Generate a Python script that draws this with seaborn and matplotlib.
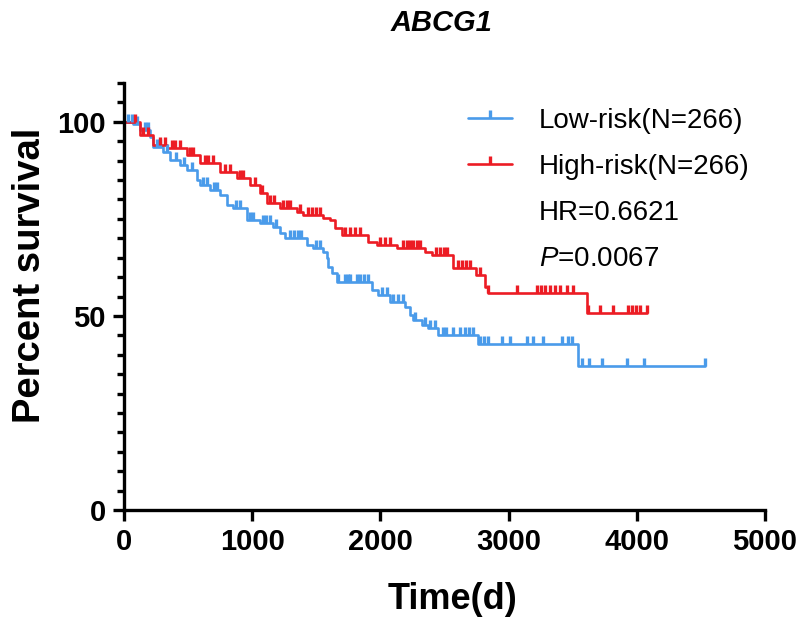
import matplotlib
matplotlib.use("Agg")
import matplotlib.pyplot as plt
import numpy as np
import pandas as pd
import seaborn as sns
from matplotlib.lines import Line2D
from matplotlib.ticker import MultipleLocator

sns.set_style("ticks")
plt.rcParams['font.family'] = ['Liberation Sans', 'DejaVu Sans']
plt.rcParams['mathtext.fontset'] = 'custom'
plt.rcParams['mathtext.rm'] = 'Liberation Sans'
plt.rcParams['mathtext.it'] = 'Liberation Sans:italic'
plt.rcParams['text.color'] = 'black'
plt.rcParams['axes.labelcolor'] = 'black'
plt.rcParams['axes.edgecolor'] = 'black'
plt.rcParams['xtick.color'] = 'black'
plt.rcParams['ytick.color'] = 'black'

# Kaplan-Meier step points (days, percent survival)
low_t = [0, 70, 125, 203, 226, 304, 359, 437, 491, 569, 593, 671, 749, 803, 850,
         959, 1061, 1162, 1217, 1256, 1427, 1474, 1552, 1583, 1591, 1622, 1661,
         1934, 1981, 2075, 2192, 2231, 2254, 2324, 2371, 2449, 2761, 3541, 4532]
low_s = [100, 99.5, 97.9, 96.1, 93.6, 92.3, 90.2, 88.9, 87.6, 85.1, 83.8, 82.5, 81.2,
         78.6, 77.8, 74.7, 74.0, 72.9, 71.4, 70.1, 68.3, 67.5, 66.5, 64.9, 62.6, 61.1,
         58.8, 56.7, 55.4, 53.6, 52.3, 50.3, 49.0, 47.7, 46.9, 45.1, 42.8, 37.1, 37.1]

high_t = [0, 125, 226, 335, 491, 593, 749, 881, 983, 1061, 1115, 1217, 1349, 1396,
          1552, 1607, 1646, 1700, 1903, 1973, 2129, 2348, 2402, 2566, 2746, 2816,
          2839, 3611, 4079]
high_s = [100, 96.6, 94.1, 93.3, 91.5, 89.4, 87.1, 85.6, 83.8, 81.7, 79.1, 77.8, 76.8,
          76.0, 75.3, 74.7, 72.7, 70.9, 69.1, 68.3, 67.5, 66.5, 65.7, 62.4, 60.6, 57.5,
          55.9, 50.8, 50.8]

# censored times (days)
low_cens = [31, 62, 101, 164, 187, 257, 281, 335, 406, 468, 530, 616, 647, 702, 725,
            874, 905, 983, 1006, 1084, 1108, 1139, 1186, 1295, 1326, 1357, 1381, 1498,
            1529, 1669, 1724, 1747, 1763, 1817, 1841, 1872, 1903, 2012, 2051, 2098,
            2137, 2176, 2270, 2348, 2387, 2426, 2488, 2512, 2566, 2621, 2660, 2691,
            2722, 2777, 2808, 2839, 2948, 3011, 3143, 3190, 3268, 3416, 3463, 3494,
            3572, 3627, 3728, 3923, 4056, 4532]
high_cens = [86, 148, 187, 281, 320, 374, 398, 437, 515, 538, 632, 655, 694, 788, 827,
             905, 928, 1022, 1076, 1139, 1170, 1240, 1271, 1295, 1373, 1435, 1466, 1498,
             1529, 1724, 1763, 1802, 1841, 1997, 2036, 2075, 2176, 2207, 2231, 2254,
             2285, 2309, 2434, 2465, 2496, 2519, 2605, 2636, 2668, 2699, 2777, 2839,
             3065, 3221, 3253, 3284, 3323, 3362, 3401, 3455, 3502, 3619, 3713, 3814,
             3931, 3962, 3994, 4025, 4079]

groups = ["Low-risk(N=266)", "High-risk(N=266)"]
colors = {"Low-risk(N=266)": "#4A9BEA", "High-risk(N=266)": "#EC1C24"}
hr_text = "HR=0.6621"
p_text = r"$P$=0.0067"

df = pd.concat([
    pd.DataFrame({"time": low_t, "surv": low_s, "group": groups[0]}),
    pd.DataFrame({"time": high_t, "surv": high_s, "group": groups[1]}),
])

fig = plt.figure(figsize=(8, 6.25), dpi=100)
ax = fig.add_axes([124 / 800, 115 / 625, 641 / 800, 427 / 625])

sns.lineplot(data=df, x="time", y="surv", hue="group", palette=colors,
             drawstyle="steps-post", estimator=None, linewidth=1.9,
             legend=False, ax=ax)

for g, t, s, c in [(groups[0], low_t, low_s, low_cens), (groups[1], high_t, high_s, high_cens)]:
    t = np.array(t); s = np.array(s); c = np.array(c)
    idx = np.searchsorted(t, c, side="right") - 1
    ax.plot(c, s[idx], ls="none", marker=2, ms=6, mew=2.4, color=colors[g])

ax.set_xlim(0, 5000)
ax.set_ylim(0, 110)
ax.set_xticks([0, 1000, 2000, 3000, 4000, 5000])
ax.set_yticks([0, 50, 100])
ax.yaxis.set_minor_locator(MultipleLocator(5))
sns.despine(ax=ax)
for sp in ["left", "bottom"]:
    ax.spines[sp].set_linewidth(2.4)
ax.tick_params(axis="both", which="major", length=8, width=2.4, labelsize=21, pad=5)
ax.tick_params(axis="y", which="minor", length=5, width=2.4)
for lbl in ax.get_xticklabels() + ax.get_yticklabels():
    lbl.set_fontweight("bold")

ax.set_xlabel("Time(d)", fontsize=26, fontweight="bold")
ax.set_ylabel("Percent survival", fontsize=27.5, fontweight="bold")
ax.xaxis.set_label_coords(0.512, -0.168)
ax.yaxis.set_label_coords(-0.119, 0.55)

fig.text(442 / 800, 1 - 23 / 625, "ABCG1", ha="center", va="center",
         fontsize=21, fontweight="bold", style="italic")

handles = [Line2D([], [], color=colors[g], lw=1.9, marker=2, ms=6, mew=2.4) for g in groups]
handles += [Line2D([], [], alpha=0), Line2D([], [], alpha=0)]
fig.legend(handles, groups + [hr_text, p_text], loc="upper left",
           bbox_to_anchor=(468 / 800, 1 - 108 / 625), frameon=False,
           fontsize=20, handlelength=1.6, handletextpad=0.95, labelspacing=0.72,
           borderpad=0, borderaxespad=0, numpoints=1)

fig.savefig("out.png", dpi=100)
